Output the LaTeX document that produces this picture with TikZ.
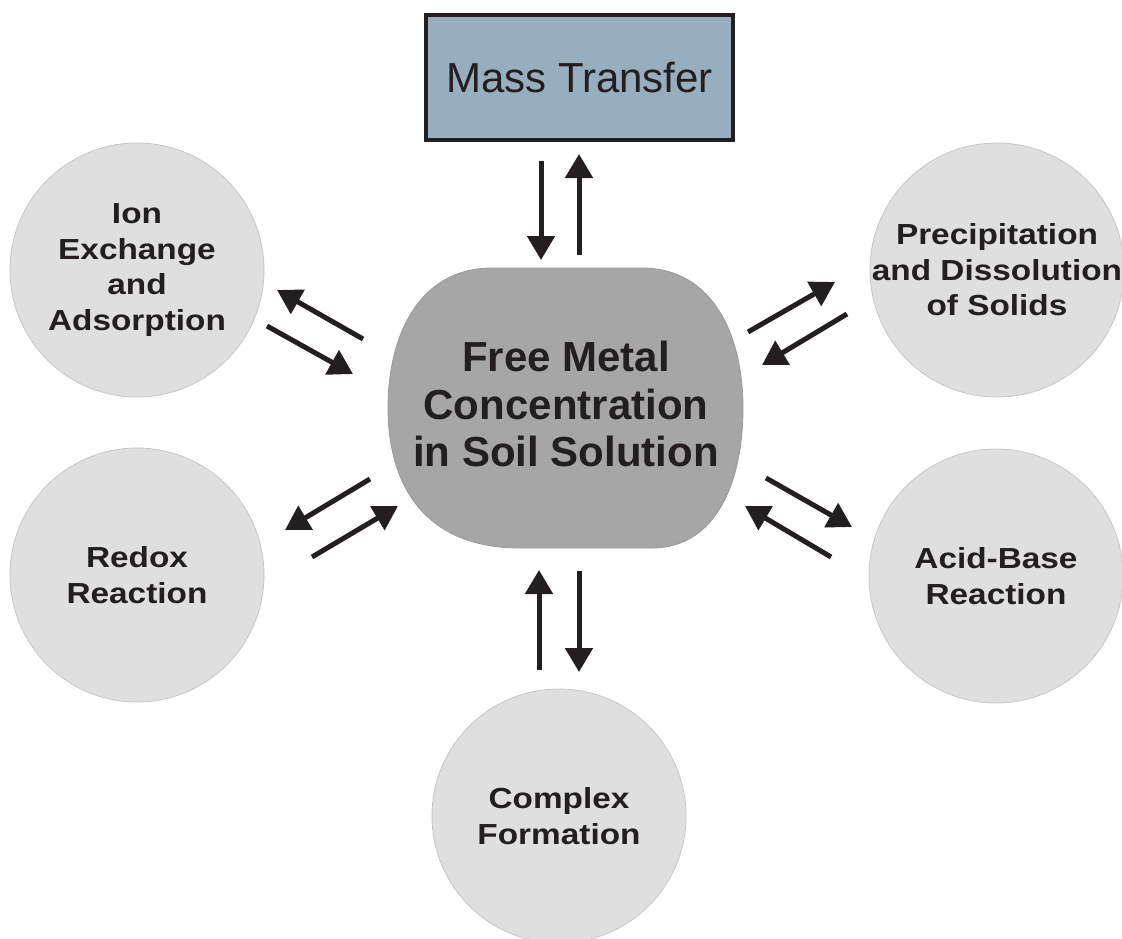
\documentclass[tikz,border=0pt]{standalone}
\usepackage{fontspec}
\setmainfont{Liberation Sans}
\newfontfamily\satfont[FakeStretch=1.15]{Liberation Sans}
\usetikzlibrary{arrows.meta}
\definecolor{inkblack}{HTML}{231F20}
\definecolor{massblue}{HTML}{97AEBF}
\definecolor{satgray}{HTML}{DFDFDF}
\definecolor{freegray}{HTML}{A6A6A6}
\tikzset{satellite/.style={circle,fill=satgray,draw=black!22,line width=0.8pt,
minimum size=254pt,inner sep=0pt}}
\tikzset{sattext/.style={text=inkblack,align=center,inner sep=0pt,
font=\satfont\bfseries\fontsize{29}{35.5}\selectfont}}
\tikzset{masstransfer/.style={rectangle,draw=inkblack,fill=massblue,line width=4pt,
minimum width=307pt,minimum height=125pt,text=inkblack,
font=\fontsize{42}{50}\selectfont}}
\tikzset{freetext/.style={text=inkblack,align=center,inner sep=0pt,
font=\bfseries\fontsize{42}{47.5}\selectfont}}
\tikzset{flux/.style={line width=5pt,draw=inkblack,-{Triangle[length=24pt,width=27pt]}}}

\begin{document}
\begin{tikzpicture}[x=1pt,y=-1pt]
    \useasboundingbox (0,0) rectangle (1122,938);
    \clip (0,0) rectangle (1122,938);

    % central pool
    \fill[freegray,draw=black!40,line width=0.8pt] (492,268) -- (642,268)
        .. controls (712,268) and (743,334) .. (743,408)
        .. controls (743,482) and (716,548) .. (652,548) -- (520,548)
        .. controls (422,548) and (388,482) .. (388,408)
        .. controls (388,334) and (420,268) .. (492,268) -- cycle;
    \node[freetext] (free) at (566,404) {Free Metal\\Concentration\\in Soil Solution};

    \node[masstransfer] (mass) at (579.5,77.5) {Mass Transfer};

    \node[satellite,label={[sattext]center:Ion\\Exchange\\and\\Adsorption}] (ionex) at (137,270) {};
    \node[satellite,label={[sattext]center:Precipitation\\and Dissolution\\of Solids}] (precip) at (997,270) {};
    \node[satellite,label={[sattext]center:Redox\\Reaction}] (redox) at (137,575) {};
    \node[satellite,label={[sattext]center:Acid-Base\\Reaction}] (acidbase) at (996,576) {};
    \node[satellite,label={[sattext]center:Complex\\Formation}] (complex) at (559,816) {};

    % arrow ends
    \coordinate (massout) at (541,161);
    \coordinate (massoutend) at (541,260);
    \coordinate (massin) at (579,255);
    \coordinate (massinend) at (579,154);
    \coordinate (complexin) at (539,670);
    \coordinate (complexinend) at (539,570);
    \coordinate (complexout) at (579,571);
    \coordinate (complexoutend) at (579,672);
    \coordinate (ionexout) at (363,339);
    \coordinate (ionexoutend) at (277,290);
    \coordinate (ionexin) at (267,326);
    \coordinate (ionexinend) at (353,374);
    \coordinate (precipout) at (748,332);
    \coordinate (precipoutend) at (835,282);
    \coordinate (precipin) at (847,314);
    \coordinate (precipinend) at (762,365);
    \coordinate (redoxout) at (370,479);
    \coordinate (redoxoutend) at (285,530);
    \coordinate (redoxin) at (312,557);
    \coordinate (redoxinend) at (398,506);
    \coordinate (acidbaseout) at (766,478);
    \coordinate (acidbaseoutend) at (852,527);
    \coordinate (acidbasein) at (831,557);
    \coordinate (acidbaseinend) at (745,506);

    \draw[flux] (massout) -- (massoutend);
    \draw[flux] (massin) -- (massinend);
    \draw[flux] (complexin) -- (complexinend);
    \draw[flux] (complexout) -- (complexoutend);
    \draw[flux] (ionexout) -- (ionexoutend);
    \draw[flux] (ionexin) -- (ionexinend);
    \draw[flux] (precipout) -- (precipoutend);
    \draw[flux] (precipin) -- (precipinend);
    \draw[flux] (redoxout) -- (redoxoutend);
    \draw[flux] (redoxin) -- (redoxinend);
    \draw[flux] (acidbaseout) -- (acidbaseoutend);
    \draw[flux] (acidbasein) -- (acidbaseinend);

\end{tikzpicture}
\end{document}
